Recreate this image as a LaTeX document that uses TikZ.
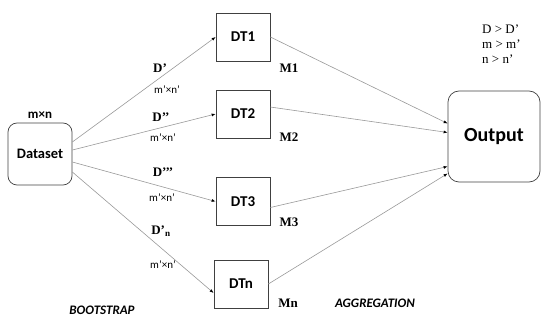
\documentclass[tikz,border=0pt]{standalone}
\usepackage{fontspec}
\setmainfont{Liberation Serif}
\newfontfamily\carfont{Carlito}
\usetikzlibrary{arrows.meta}
\tikzset{
  dtbox/.style={draw=black!75, line width=0.7pt, minimum width=54pt, minimum height=48pt, inner sep=0pt, font=\carfont\bfseries\fontsize{15}{17}\selectfont},
  rbox/.style={draw=black!75, line width=0.7pt, rounded corners=9pt, inner sep=0pt},
  conn/.style={draw=black!40, line width=0.6pt, -{Latex[length=4pt,width=3pt,black]}},
  serlab/.style={font=\bfseries\fontsize{13}{15}\selectfont, inner sep=0pt},
  dimlab/.style={font=\carfont\fontsize{11}{13}\selectfont, inner sep=0pt},
  phaselab/.style={font=\carfont\bfseries\itshape\fontsize{13}{15}\selectfont, inner sep=0pt}
}
\begin{document}
\begin{tikzpicture}[x=1pt,y=-1pt]
\useasboundingbox (0,0) rectangle (541,320);
\node[rbox, minimum width=64pt, minimum height=62pt, font=\carfont\bfseries\fontsize{14.5}{16}\selectfont] (ds) at (40,154) {Dataset};
\node[font=\carfont\bfseries\fontsize{13}{15}\selectfont, inner sep=0pt] (mn) at (40,115) {m×n};
\node[dtbox] (dt1) at (243,37) {DT1};
\node[dtbox] (dt2) at (243,114) {DT2};
\node[dtbox] (dt3) at (243,201.5) {DT3};
\node[dtbox] (dtn) at (241,284) {DTn};
\node[rbox, minimum width=92pt, minimum height=91pt, rounded corners=11pt, font=\carfont\bfseries\fontsize{20}{23}\selectfont] (out) at (494,136.5) {Output};

\draw[conn] ([yshift=12pt]ds.east) -- (dt1.west);
\draw[conn] ([yshift=4pt]ds.east) -- (dt2.west);
\draw[conn] ([yshift=-8pt]ds.east) -- (dt3.west);
\draw[conn] ([yshift=-18pt]ds.east) -- ([yshift=-9pt]dtn.west);

\draw[conn] (dt1.east) -- ([yshift=13pt]out.west);
\draw[conn] ([yshift=7pt]dt2.east) -- ([yshift=4pt]out.west);
\draw[conn] ([yshift=-6pt]dt3.east) -- ([yshift=-30pt]out.west);
\draw[conn] (dtn.east) -- ([yshift=-37pt]out.west);

\node[serlab] (d1) at (160,68) {D’};
\node[dimlab] (s1) at (167,90) {m’×n’};
\node[serlab] (d2) at (161,117) {D’’};
\node[dimlab] (s2) at (163,138) {m’×n’};
\node[serlab] (d3) at (163,172) {D’’’};
\node[dimlab] (s3) at (162,198) {m’×n’};
\node[serlab] (d4) at (161,231) {D’\textsubscript{n}};
\node[dimlab] (s4) at (163,265) {m’×n’};

\node[serlab] (m1) at (289,68) {M1};
\node[serlab] (m2) at (289,137) {M2};
\node[serlab] (m3) at (289,222) {M3};
\node[serlab] (m4) at (288,303) {Mn};

\node[phaselab] (bs) at (102,310) {BOOTSTRAP};
\node[phaselab] (ag) at (375,303) {AGGREGATION};

\node[font=\fontsize{13}{15}\selectfont, align=left, inner sep=0pt, anchor=north west] (cond) at (482,25) {D > D’\\ m > m’\\ n > n’};
\end{tikzpicture}
\end{document}
